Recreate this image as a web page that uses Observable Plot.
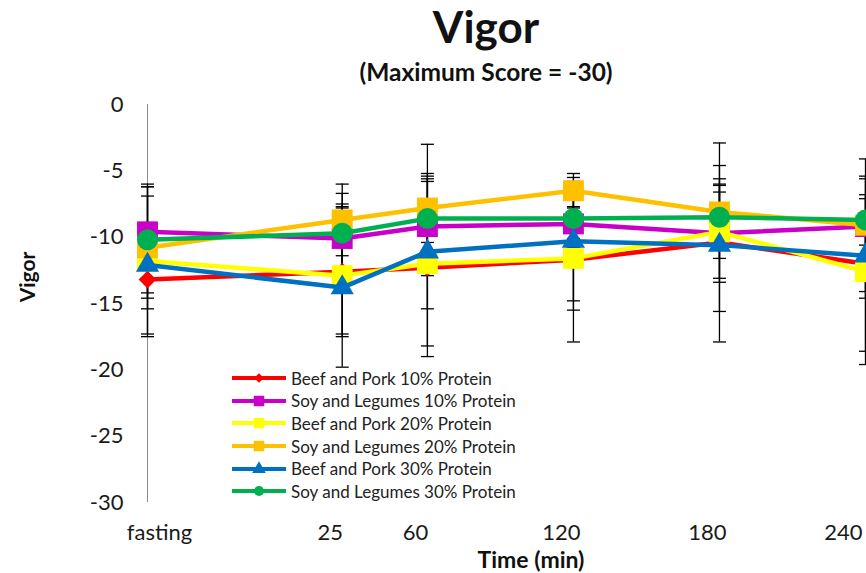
<!DOCTYPE html>
<html><head><meta charset="utf-8">
<script src="https://cdn.jsdelivr.net/npm/d3@7"></script>
<script src="https://cdn.jsdelivr.net/npm/@observablehq/plot@0.6"></script>
<style>
body{margin:0;background:#fff;font-family:Lato,"Open Sans",sans-serif;color:#111;}
#wrap{position:relative;width:866px;height:573px;overflow:hidden;background:#fff;}
#chart{position:absolute;left:0;top:0;}
#title{position:absolute;left:286px;width:400px;top:4px;text-align:center;font-weight:bold;font-size:44px;line-height:44px;}
#subtitle{position:absolute;left:286px;width:400px;top:59px;text-align:center;font-weight:bold;font-size:24.5px;line-height:26px;}
#ytitle{position:absolute;left:26px;top:277px;transform:translate(-50%,-50%) rotate(-90deg);font-weight:bold;font-size:21px;white-space:nowrap;}
#xtitle{position:absolute;left:531px;top:559px;transform:translate(-50%,-50%);font-weight:bold;font-size:23px;line-height:24px;white-space:nowrap;}
#legend{position:absolute;left:230px;top:367px;}
.lrow{display:flex;align-items:center;height:22.6px;}
.lrow span{font-size:17px;margin-left:3px;color:#222;white-space:nowrap;}
</style></head><body>
<div id="wrap">
  <div id="chart"></div>
  <div id="title">Vigor</div>
  <div id="subtitle">(Maximum Score = -30)</div>
  <div id="ytitle">Vigor</div>
  <div id="xtitle">Time (min)</div>
  <div id="legend"></div>
</div>
<script>
// ---- data ----
const timeLabels = ["fasting", "25", "60", "120", "180", "240"];
const timeValues = [-55, 25, 60, 120, 180, 240];
const yTicks = [0, -5, -10, -15, -20, -25, -30];

const seriesNames = [
  "Beef and Pork 10% Protein",
  "Soy and Legumes 10% Protein",
  "Beef and Pork 20% Protein",
  "Soy and Legumes 20% Protein",
  "Beef and Pork 30% Protein",
  "Soy and Legumes 30% Protein"
];
const seriesColors = ["#FF0000", "#C800C8", "#FFFF00", "#FFC000", "#0070C0", "#00B050"];
const seriesSymbols = ["diamond2", "square", "square", "square", "triangle", "circle"];

const beefPork10      = [-13.2, -12.6, -12.3, -11.7, -10.4, -12.0];
const beefPork10SD    = [4.3, 4.9, 6.7, 6.2, 7.5, 6.6];
const soyLegumes10    = [-9.6, -10.1, -9.2, -9.0, -9.7, -9.2];
const soyLegumes10SD  = [3.6, 2.6, 6.2, 1.8, 3.7, 2.1];
const beefPork20      = [-11.8, -12.9, -12.0, -11.6, -9.6, -12.6];
const beefPork20SD    = [2.8, 4.4, 6.2, 3.9, 3.5, 7.0];
const soyLegumes20    = [-10.8, -8.7, -7.8, -6.5, -8.1, -9.1];
const soyLegumes20SD  = [4.6, 2.7, 2.6, 1.3, 3.5, 5.0];
const beefPork30      = [-12.1, -13.8, -11.1, -10.3, -10.6, -11.4];
const beefPork30SD    = [5.2, 6.0, 1.8, 4.5, 5.0, 3.2];
const soyLegumes30    = [-10.2, -9.7, -8.6, -8.6, -8.5, -8.7];
const soyLegumes30SD  = [4.0, 3.0, 3.2, 1.5, 1.9, 1.9];

const means = [beefPork10, soyLegumes10, beefPork20, soyLegumes20, beefPork30, soyLegumes30];
const sds = [beefPork10SD, soyLegumes10SD, beefPork20SD, soyLegumes20SD, beefPork30SD, soyLegumes30SD];

// ---- build table ----
const data = seriesNames.flatMap((name, i) =>
  timeValues.map((t, j) => ({series: name, idx: i, time: t, mean: means[i][j], sd: sds[i][j]})));

const markerR = [8, 11.8, 11.8, 11.8, 8.6, 10.5];

const capSymbol = {draw(ctx, size) { const w = Math.sqrt(size / Math.PI); ctx.moveTo(-w, 0); ctx.lineTo(w, 0); }};

const seriesMarks = seriesNames.flatMap((name, i) => {
  const rows = data.filter(d => d.idx === i);
  return [
    Plot.line(rows, {x: "time", y: "mean", stroke: seriesColors[i], strokeWidth: 4.5}),
    Plot.dot(rows, {x: "time", y: "mean", symbol: seriesSymbols[i], r: markerR[i], fill: seriesColors[i], stroke: "none"})
  ];
});

const xFmt = d => timeLabels[timeValues.indexOf(d)];
const xAxisOpts = {tickSize: 0, tickPadding: 22, tickFormat: xFmt, label: null};

const chart = Plot.plot({
  width: 866,
  height: 573,
  marginTop: 104,
  marginBottom: 71,
  marginLeft: 147,
  marginRight: 1,
  style: {fontFamily: "Lato, 'Open Sans', sans-serif", fontSize: "22px", color: "#1a1a1a", background: "transparent", overflow: "hidden"},
  x: {domain: [timeValues[0], timeValues[timeValues.length - 1]]},
  y: {domain: [-30, 0], ticks: yTicks, tickFormat: d => String(d), tickSize: 0, tickPadding: 24, label: null},
  marks: [
    Plot.axisX(timeValues.slice(0, 1), {...xAxisOpts, dx: 12}),
    Plot.axisX(timeValues.slice(1, -1), {...xAxisOpts, dx: -12}),
    Plot.axisX(timeValues.slice(-1), {...xAxisOpts, textAnchor: "end", dx: -3}),
    Plot.ruleX([timeValues[0]], {stroke: "#8c8c8c", strokeWidth: 1}),
    Plot.ruleX(data, {x: "time", y1: d => d.mean - d.sd, y2: d => d.mean + d.sd, stroke: "#000", strokeWidth: 1.3}),
    Plot.dot(data, {x: "time", y: d => d.mean - d.sd, symbol: capSymbol, r: 6.5, stroke: "#000", strokeWidth: 1.3, fill: "none"}),
    Plot.dot(data, {x: "time", y: d => d.mean + d.sd, symbol: capSymbol, r: 6.5, stroke: "#000", strokeWidth: 1.3, fill: "none"}),
    ...seriesMarks
  ]
});
document.getElementById("chart").append(chart);

// ---- legend ----
const d3Sym = {diamond2: d3.symbolDiamond2 || d3.symbolDiamond, square: d3.symbolSquare, triangle: d3.symbolTriangle, circle: d3.symbolCircle};
const legendSize = [60, 110, 110, 110, 80, 80];
const legend = d3.select("#legend");
seriesNames.forEach((name, i) => {
  const row = legend.append("div").attr("class", "lrow");
  const svg = row.append("svg").attr("width", 58).attr("height", 16);
  svg.append("line").attr("x1", 2).attr("x2", 56).attr("y1", 8).attr("y2", 8)
    .attr("stroke", seriesColors[i]).attr("stroke-width", 4);
  svg.append("path").attr("transform", "translate(29,8)")
    .attr("d", d3.symbol(d3Sym[seriesSymbols[i]], legendSize[i])()).attr("fill", seriesColors[i]);
  row.append("span").text(name);
});
</script>
</body></html>
